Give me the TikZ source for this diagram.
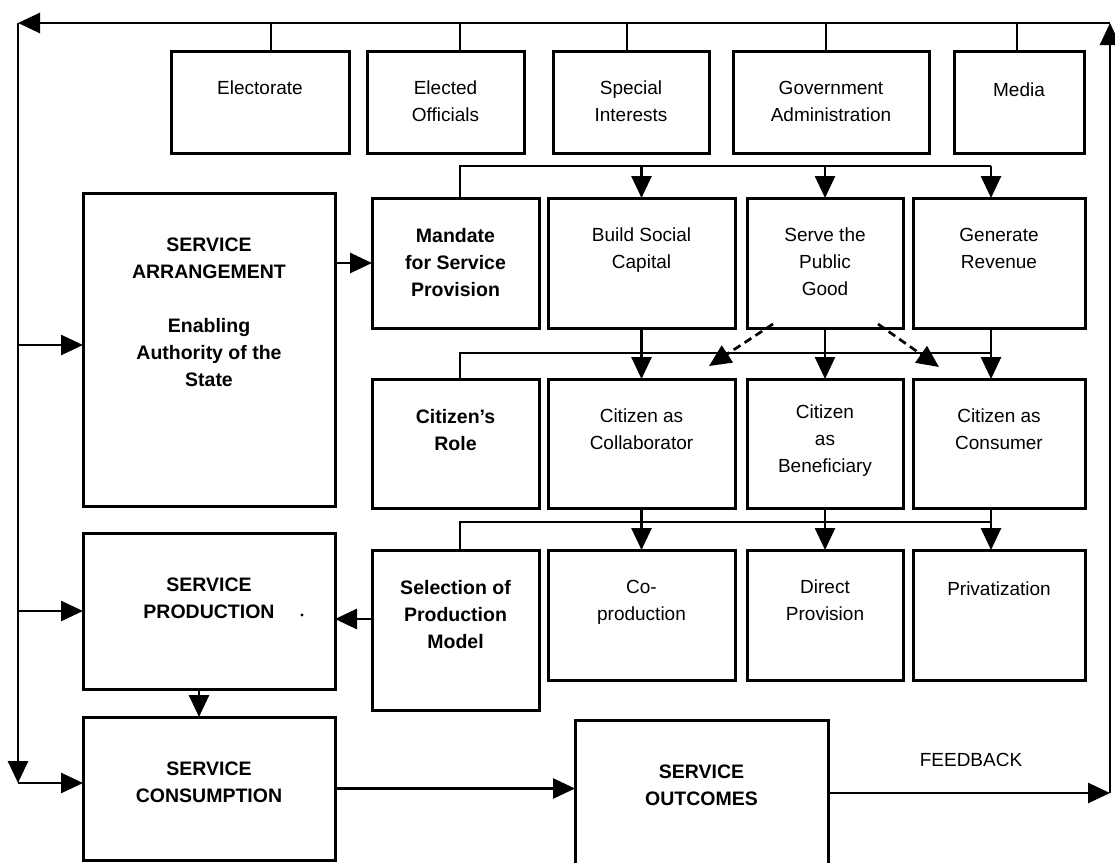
\documentclass[tikz,border=0pt]{standalone}
\usepackage{fontspec}
\setmainfont{Liberation Sans}
\usetikzlibrary{arrows.meta,calc}
\begin{document}
\begin{tikzpicture}[x=1pt,y=-1pt,
  box/.style={draw, line width=3pt, inner sep=0pt, outer sep=0pt},
  lbl/.style={anchor=north, align=center, inner sep=0pt, font=\fontsize{19}{27}\selectfont},
  blbl/.style={anchor=north, align=center, inner sep=0pt, font=\fontsize{19.5}{27}\selectfont\bfseries},
  conn/.style={line width=2.7pt},
  arr/.style={conn, -{Triangle[length=22pt,width=20pt]}},
  darr/.style={arr, dash pattern=on 8pt off 5pt},
]
\useasboundingbox (0,0) rectangle (1115,862);

% top row
\node[box, minimum width=178pt, minimum height=102pt] (elect) at (260,102) {};
\node[box, minimum width=157pt, minimum height=102pt] (offic) at (445.5,102) {};
\node[box, minimum width=156pt, minimum height=102pt] (spec) at (631,102) {};
\node[box, minimum width=196pt, minimum height=102pt] (govt) at (831,102) {};
\node[box, minimum width=130pt, minimum height=102pt] (media) at (1019,102) {};
\node[lbl] (elect-t) at ([yshift=-30pt]elect.north) {Electorate};
\node[lbl] (offic-t) at ([yshift=-30pt]offic.north) {Elected\\Officials};
\node[lbl] (spec-t) at ([yshift=-30pt]spec.north) {Special\\Interests};
\node[lbl] (govt-t) at ([yshift=-30pt]govt.north) {Government\\Administration};
\node[lbl] (media-t) at ([yshift=-32pt]media.north) {Media};

% left column
\node[box, minimum width=252pt, minimum height=313pt] (arrange) at (209,349.5) {};
\node[box, minimum width=252pt, minimum height=156pt] (produce) at (209,611) {};
\node[box, minimum width=252pt, minimum height=143pt] (consume) at (209,788.5) {};
\node[box, minimum width=253pt, minimum height=146pt] (outcomes) at (701.5,793) {};
\node[blbl] (arrange-t) at ([yshift=-45pt]arrange.north) {SERVICE\\ARRANGEMENT\\[27pt]Enabling\\Authority of the\\State};
\node[blbl] (produce-t) at ([yshift=-45pt]produce.north) {SERVICE\\PRODUCTION};
\node[blbl] (consume-t) at ([yshift=-45pt]consume.north) {SERVICE\\CONSUMPTION};
\node[blbl] (outcomes-t) at ([yshift=-45pt]outcomes.north) {SERVICE\\OUTCOMES};
\fill (302,615) circle (1.6pt);

% row 2
\node[box, minimum width=167pt, minimum height=130pt] (mandate) at (455.5,263) {};
\node[box, minimum width=187pt, minimum height=130pt] (build) at (641.5,263) {};
\node[box, minimum width=156pt, minimum height=130pt] (serve) at (825,263) {};
\node[box, minimum width=172pt, minimum height=130pt] (revenue) at (999,263) {};
\node[blbl] (mandate-t) at ([yshift=-30pt]mandate.north) {Mandate\\for Service\\Provision};
\node[lbl] (build-t) at ([yshift=-30pt]build.north) {Build Social\\Capital};
\node[lbl] (serve-t) at ([yshift=-30pt]serve.north) {Serve the\\Public\\Good};
\node[lbl] (revenue-t) at ([yshift=-30pt]revenue.north) {Generate\\Revenue};

% row 3
\node[box, minimum width=167pt, minimum height=129pt] (role) at (455.5,443.5) {};
\node[box, minimum width=187pt, minimum height=129pt] (collab) at (641.5,443.5) {};
\node[box, minimum width=156pt, minimum height=129pt] (benef) at (825,443.5) {};
\node[box, minimum width=172pt, minimum height=129pt] (consumer) at (999,443.5) {};
\node[blbl] (role-t) at ([yshift=-30pt]role.north) {Citizen’s\\Role};
\node[lbl] (collab-t) at ([yshift=-30pt]collab.north) {Citizen as\\Collaborator};
\node[lbl] (benef-t) at ([yshift=-26pt]benef.north) {Citizen\\as\\Beneficiary};
\node[lbl] (consumer-t) at ([yshift=-30pt]consumer.north) {Citizen as\\Consumer};

% row 4
\node[box, minimum width=167pt, minimum height=160pt] (select) at (455.5,630) {};
\node[box, minimum width=187pt, minimum height=130pt] (coprod) at (641.5,615) {};
\node[box, minimum width=156pt, minimum height=130pt] (direct) at (825,615) {};
\node[box, minimum width=172pt, minimum height=130pt] (privat) at (999,615) {};
\node[blbl] (select-t) at ([yshift=-30pt]select.north) {Selection of\\Production\\Model};
\node[lbl] (coprod-t) at ([yshift=-30pt]coprod.north) {Co-\\production};
\node[lbl] (direct-t) at ([yshift=-30pt]direct.north) {Direct\\Provision};
\node[lbl] (privat-t) at ([yshift=-32pt]privat.north) {Privatization};

\node[inner sep=0pt, font=\fontsize{19}{23}\selectfont] (fb) at (971,760) {FEEDBACK};

% outer feedback loop
\coordinate (TL) at (18,23);
\coordinate (TR) at (1110,23);
\coordinate (BL) at (18,783);
\coordinate (BR) at (1110,793);
\draw[arr] (outcomes.east |- BR) -- (BR);
\draw[arr] (BR) -- (TR);
\draw[arr] (TR) -- (TL);
\draw[arr] (TL) -- (BL);
\draw[arr] (BL) -- (BL -| consume.west);

% top connectors
\coordinate (t1) at (271,23);
\coordinate (t2) at (460,23);
\coordinate (t3) at (627,23);
\coordinate (t4) at (826,23);
\coordinate (t5) at (1017,23);
\draw[conn] (t1) -- (t1 |- elect.north);
\draw[conn] (t2) -- (t2 |- offic.north);
\draw[conn] (t3) -- (t3 |- spec.north);
\draw[conn] (t4) -- (t4 |- govt.north);
\draw[conn] (t5) -- (t5 |- media.north);

% left branches
\coordinate (aA) at (18,345);
\draw[arr] (aA) -- (aA -| arrange.west);
\draw[arr] (TL |- produce.west) -- (produce.west);
\draw[arr] (arrange.east |- mandate.west) -- (mandate.west);
\coordinate (sP) at (373,619);
\draw[arr] (sP -| select.west) -- (sP -| produce.east);
\coordinate (pc) at (199,0);
\draw[arr] (pc |- produce.south) -- (pc |- consume.north);
\draw[arr] (consume.east) -- (consume.east -| outcomes.west);

% row 2 distributor
\coordinate (r2a) at (460,166);
\coordinate (r2b) at (991,166);
\draw[conn] (r2a |- mandate.north) -- (r2a) -- (r2b);
\draw[arr] (r2b) -- (r2b |- revenue.north);
\draw[arr] (build.north |- r2a) -- (build.north);
\draw[arr] (serve.north |- r2a) -- (serve.north);

% row 3 distributor
\coordinate (r3a) at (460,353);
\coordinate (r3b) at (991,353);
\draw[conn] (r3a |- role.north) -- (r3a) -- (r3b);
\draw[arr] (build.south) -- (collab.north);
\draw[arr] (serve.south) -- (benef.north);
\draw[arr] (r3b |- revenue.south) -- (r3b |- consumer.north);
\coordinate (dl) at (709,366);
\coordinate (dr) at (939,367);
\draw[darr] ($(serve.south west)+(26,-4)$) -- (dl);
\draw[darr] ($(serve.south east)+(-25,-4)$) -- (dr);

% row 4 distributor
\coordinate (r4a) at (460,522);
\coordinate (r4b) at (991,522);
\draw[conn] (r4a |- select.north) -- (r4a) -- (r4b);
\draw[arr] (collab.south) -- (coprod.north);
\draw[arr] (benef.south) -- (direct.north);
\draw[arr] (r4b |- consumer.south) -- (r4b |- privat.north);
\end{tikzpicture}
\end{document}
